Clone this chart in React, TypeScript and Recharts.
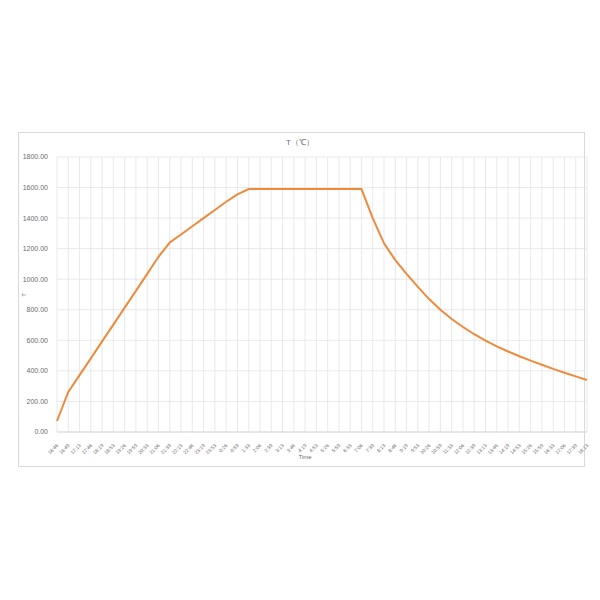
import React from "react";
import { LineChart, Line, XAxis, YAxis, CartesianGrid } from "recharts";

const timeLabels = [
  "16:46", "16:49", "17:13", "17:46", "18:19", "18:53", "19:26", "19:59", "20:33", "21:06",
  "21:39", "22:13", "22:46", "23:19", "23:53", "0:26", "0:59", "1:33", "2:06", "2:39",
  "3:13", "3:46", "4:19", "4:53", "5:26", "5:59", "6:33", "7:06", "7:39", "8:13",
  "8:46", "9:19", "9:53", "10:26", "10:59", "11:33", "12:06", "12:39", "13:13", "13:46",
  "14:19", "14:53", "15:26", "15:59", "16:33", "17:06", "17:39", "18:13",
];

const temperatures = [
  72, 262, 372, 482, 593, 703, 814, 924, 1035, 1147,
  1240, 1293, 1347, 1400, 1453, 1507, 1555, 1590, 1590, 1590,
  1590, 1590, 1590, 1590, 1590, 1590, 1590, 1590, 1400, 1235,
  1125, 1035, 950, 870, 800, 740, 687, 640, 598, 561,
  527, 496, 467, 440, 413, 388, 364, 340,
];

const yTicks = [0, 200, 400, 600, 800, 1000, 1200, 1400, 1600, 1800];

const data = timeLabels.map((t, i) => ({ time: t, T: temperatures[i] }));

const FONT = "'Liberation Sans', Arial, sans-serif";
const TEXT = "#6b6b6b";

const XTick = (props: any) => {
  const { x, y, payload } = props;
  return (
    <g transform={`translate(${x},${y + 4})`}>
      <text
        x={0}
        y={0}
        transform="rotate(-45)"
        textAnchor="end"
        fontSize={5}
        fill={TEXT}
        fontFamily={FONT}
        dy={2.5}
      >
        {payload.value}
      </text>
    </g>
  );
};

export default function App() {
  return (
    <div style={{ position: "absolute", left: 0, top: 0, width: 600, height: 600, background: "#fff" }}>
      <div
        style={{
          position: "absolute",
          left: 18,
          top: 132,
          width: 567,
          height: 335,
          border: "1px solid #d9d9d9",
          boxSizing: "border-box",
        }}
      />
      <div
        style={{
          position: "absolute",
          left: 0,
          width: 600,
          top: 137,
          textAlign: "center",
          fontSize: 8,
          color: TEXT,
          fontFamily: FONT,
        }}
      >
        T（℃）
      </div>
      <div
        style={{
          position: "absolute",
          left: 22,
          top: 292,
          fontSize: 6,
          color: TEXT,
          fontFamily: FONT,
          transform: "rotate(-90deg)",
        }}
      >
        T
      </div>
      <div
        style={{
          position: "absolute",
          left: 0,
          width: 610,
          top: 454,
          textAlign: "center",
          fontSize: 6,
          color: TEXT,
          fontFamily: FONT,
        }}
      >
        Time
      </div>
      <div style={{ position: "absolute", left: 0, top: 0 }}>
        <LineChart
          width={600}
          height={600}
          data={data}
          margin={{ top: 157, right: 13, bottom: 0, left: 17 }}
        >
          <CartesianGrid stroke="#e3e3e3" strokeWidth={0.8} />
          <XAxis
            dataKey="time"
            interval={0}
            height={168}
            tick={<XTick />}
            tickLine={false}
            axisLine={{ stroke: "#d9d9d9" }}
          />
          <YAxis
            width={40}
            domain={[0, 1800]}
            ticks={yTicks}
            tickFormatter={(v: number) => v.toFixed(2)}
            tick={{ fontSize: 7, fill: TEXT, fontFamily: FONT }}
            tickLine={false}
            axisLine={false}
            tickSize={0}
            tickMargin={9}
          />
          <Line
            type="linear"
            dataKey="T"
            stroke="#EE8A3C"
            strokeWidth={2}
            dot={false}
            isAnimationActive={false}
          />
        </LineChart>
      </div>
    </div>
  );
}
